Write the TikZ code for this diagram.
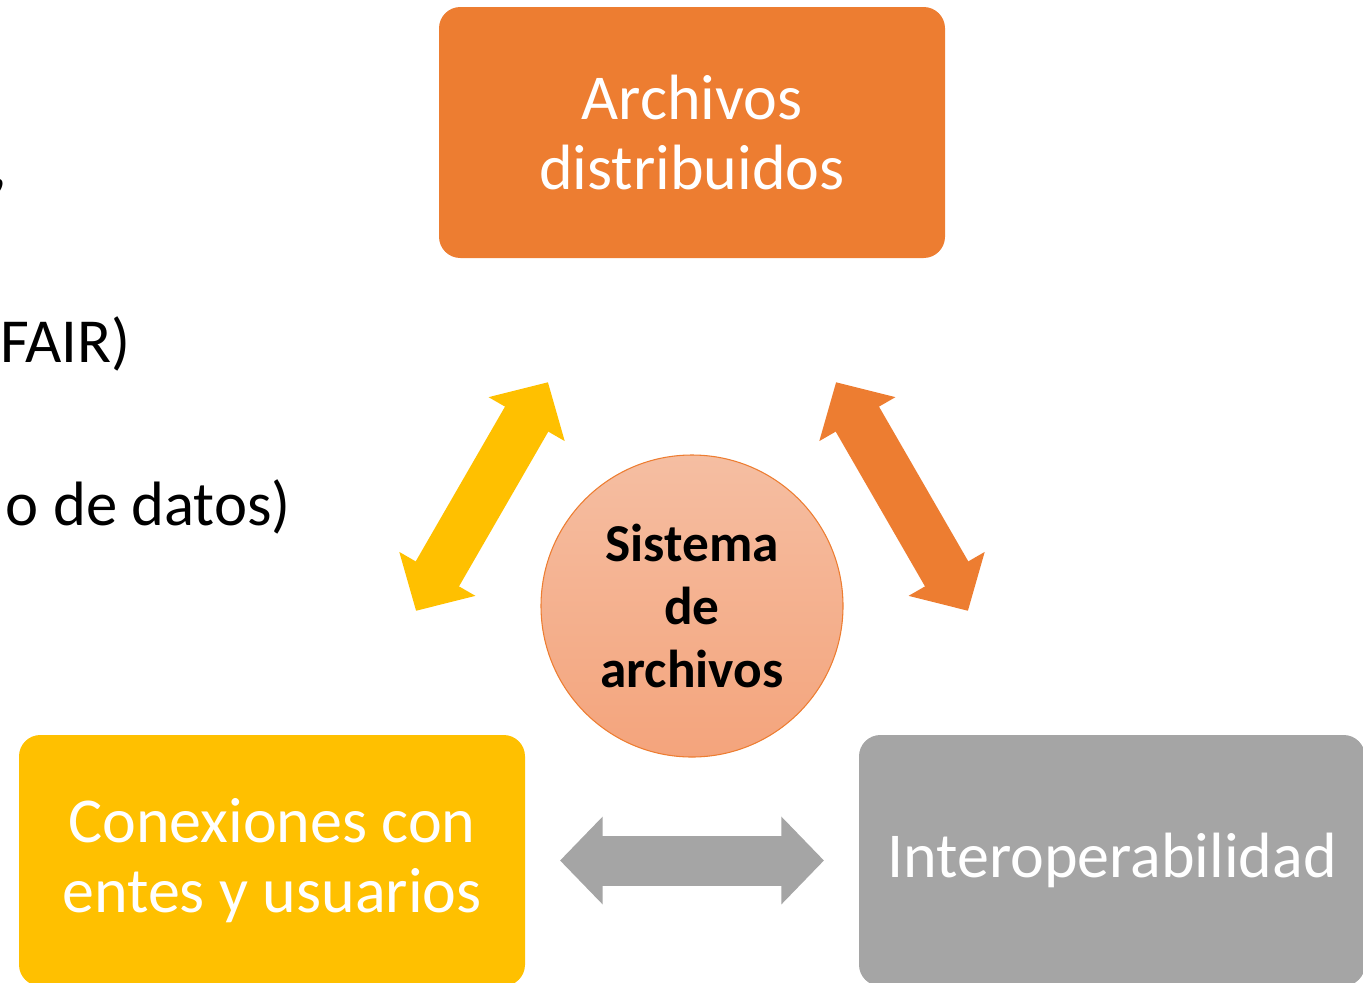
\documentclass[tikz,border=0pt]{standalone}
\usepackage{fontspec}
\setmainfont{Carlito}
\usepackage{tikz}
\usetikzlibrary{shapes,arrows.meta,calc}
\definecolor{naranja}{HTML}{ED7D31}
\definecolor{amarillo}{HTML}{FFC000}
\definecolor{gris}{HTML}{A5A5A5}
\definecolor{salmonA}{HTML}{F5BEA2}
\definecolor{salmonB}{HTML}{F4A47C}
\begin{document}
\begin{tikzpicture}[x=0.75pt,y=-0.75pt,
	caja/.style={rounded corners=16pt,minimum width=379.5pt,minimum height=188.25pt,inner sep=0pt,
		text=white,align=center,font=\fontsize{48}{52.5}\selectfont},
	flecha/.style={line width=37.5pt,{Triangle[length=32pt,width=64pt]}-{Triangle[length=32pt,width=64pt]}},
	texto/.style={anchor=base east,inner sep=0pt,font=\fontsize{47}{52.5}\selectfont}]
\clip (0,0) rectangle (1363,982);
% cajas
\node [caja,fill=naranja] (archivos) at (692,132.5) {Archivos\\distribuidos};
\node [caja,fill=amarillo] (conex) at (272,860.5) {Conexiones con\\entes y usuarios};
\node [caja,fill=gris] (interop) at (1112,860.5) {Interoperabilidad};
% centro
\node [circle,draw=naranja,line width=0.8pt,top color=salmonA,bottom color=salmonB,
	minimum size=226.5pt,inner sep=0pt,align=center,
	font=\fontsize{40}{47}\selectfont\bfseries] (sistema) at (692,606) {Sistema\\de\\archivos};
% flechas
\coordinate (m1) at ($(conex)!0.5!(archivos)$);
\coordinate (m2) at ($(archivos)!0.5!(interop)$);
\coordinate (m3) at ($(conex)!0.5!(interop)$);
\draw [flecha,amarillo] ($(m1)!99pt!(conex)$) -- ($(m1)!99pt!(archivos)$);
\draw [flecha,naranja] ($(m2)!99pt!(archivos)$) -- ($(m2)!99pt!(interop)$);
\draw [flecha,gris] ($(m3)!99pt!(conex)$) -- ($(m3)!99pt!(interop)$);
% texto cortado a la izquierda
\node [texto] (t1) at (7,186) {,};
\node [texto] (t2) at (131,362) {FAIR)};
\node [texto] (t3) at (291,525) {o de datos)};
\end{tikzpicture}
\end{document}
